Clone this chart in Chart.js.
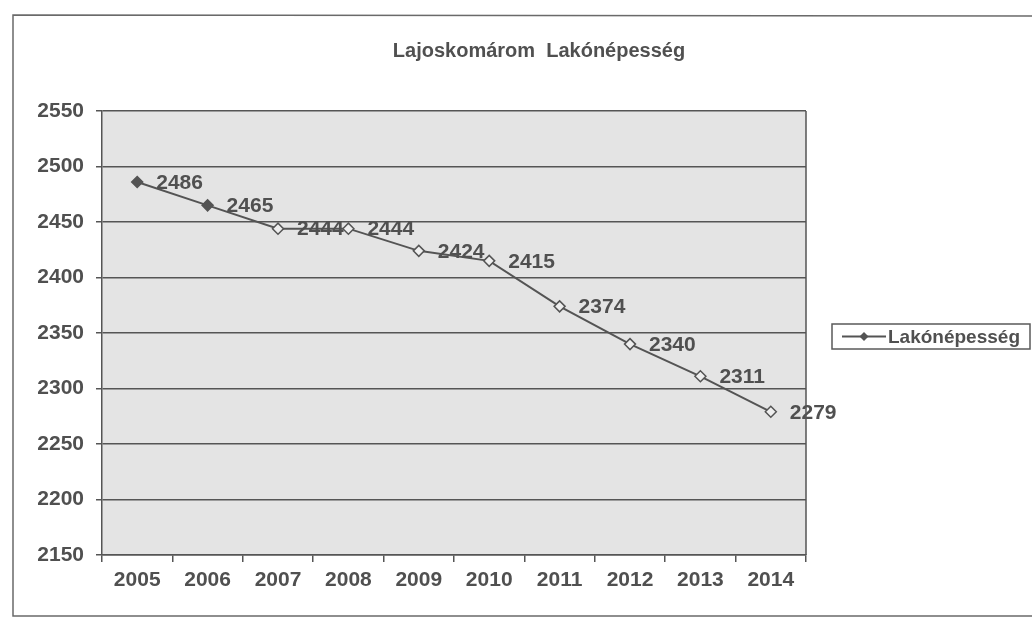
<!DOCTYPE html>
<html>
<head>
<meta charset="utf-8">
<style>
  html, body { margin: 0; padding: 0; background: #ffffff; }
  #wrap { width: 1032px; height: 620px; position: relative; }
</style>
<script src="https://cdn.jsdelivr.net/npm/chart.js@4.4.1/dist/chart.umd.min.js"></script>
</head>
<body>
<div id="wrap"><canvas id="c" width="1032" height="620"></canvas></div>
<script>
// ---- data ----
const chartTitle = 'Lajoskomárom  Lakónépesség';
const seriesName = 'Lakónépesség';
const years = ['2005', '2006', '2007', '2008', '2009', '2010', '2011', '2012', '2013', '2014'];
const population = [2486, 2465, 2444, 2444, 2424, 2415, 2374, 2340, 2311, 2279];
const yMin = 2150;
const yMax = 2550;
const yStep = 50;

// ---- style ----
const FONT = '"Liberation Sans", Arial, sans-serif';
const TEXT = '#505050';
const LINE = '#545454';
const GRID = '#555555';
const PLOT_BG = '#e4e4e4';

const plotBg = {
  id: 'plotBg',
  beforeDraw(chart) {
    const { ctx, chartArea: a } = chart;
    ctx.save();
    ctx.fillStyle = PLOT_BG;
    ctx.fillRect(a.left, a.top, a.right - a.left, a.bottom - a.top);
    // outer chart frame
    ctx.strokeStyle = '#6a6a6a';
    ctx.lineWidth = 1.5;
    ctx.beginPath();
    ctx.moveTo(1040, 16);
    ctx.lineTo(13, 15);
    ctx.lineTo(13, 616);
    ctx.lineTo(1040, 616);
    ctx.stroke();
    // title
    ctx.fillStyle = TEXT;
    ctx.font = 'bold 20px ' + FONT;
    ctx.textAlign = 'center';
    ctx.textBaseline = 'middle';
    ctx.fillText(chartTitle, 539, 51);
    ctx.restore();
  },
  afterDraw(chart) {
    const { ctx, chartArea: a } = chart;
    ctx.save();
    // right border of the plot area
    ctx.strokeStyle = GRID;
    ctx.lineWidth = 1.5;
    ctx.beginPath();
    ctx.moveTo(a.right, a.top);
    ctx.lineTo(a.right, a.bottom);
    ctx.stroke();
    // legend
    const lx = 832, ly = 324, lw = 198, lh = 25;
    ctx.strokeStyle = '#5a5a5a';
    ctx.lineWidth = 1.5;
    ctx.strokeRect(lx, ly, lw, lh);
    const cy = ly + lh / 2;
    ctx.strokeStyle = LINE;
    ctx.lineWidth = 2;
    ctx.beginPath();
    ctx.moveTo(842, cy);
    ctx.lineTo(886, cy);
    ctx.stroke();
    ctx.fillStyle = LINE;
    ctx.beginPath();
    ctx.moveTo(864, cy - 4.5);
    ctx.lineTo(868.5, cy);
    ctx.lineTo(864, cy + 4.5);
    ctx.lineTo(859.5, cy);
    ctx.closePath();
    ctx.fill();
    ctx.fillStyle = TEXT;
    ctx.font = 'bold 19px ' + FONT;
    ctx.textAlign = 'left';
    ctx.textBaseline = 'middle';
    ctx.fillText(seriesName, 888, cy + 1);
    ctx.restore();
  }
};

const dataLabels = {
  id: 'dataLabels',
  afterDatasetsDraw(chart) {
    const { ctx } = chart;
    const meta = chart.getDatasetMeta(0);
    const values = chart.data.datasets[0].data;
    ctx.save();
    ctx.fillStyle = TEXT;
    ctx.font = 'bold 21px ' + FONT;
    ctx.textAlign = 'left';
    ctx.textBaseline = 'middle';
    meta.data.forEach((pt, i) => {
      ctx.fillText(String(values[i]), pt.x + 19, pt.y + 1);
    });
    ctx.restore();
  }
};

new Chart(document.getElementById('c'), {
  type: 'line',
  data: {
    labels: years,
    datasets: [{
      label: seriesName,
      data: population,
      borderColor: LINE,
      borderWidth: 2,
      tension: 0,
      pointStyle: 'rectRot',
      pointRadius: 5.5,
      pointBorderWidth: 1.5,
      pointBorderColor: LINE,
      pointBackgroundColor: (c) => (c.dataIndex < 2 ? LINE : '#eeeeee')
    }]
  },
  options: {
    responsive: false,
    animation: false,
    events: [],
    layout: { padding: { top: 111, left: 0, right: 226, bottom: 0 } },
    plugins: {
      legend: { display: false },
      title: { display: false },
      tooltip: { enabled: false }
    },
    scales: {
      x: {
        type: 'category',
        offset: true,
        afterFit(scale) { scale.height = 65; },
        grid: {
          display: true,
          offset: true,
          drawOnChartArea: false,
          drawTicks: true,
          tickLength: 7,
          color: GRID,
          lineWidth: 1.5
        },
        border: { display: true, color: GRID, width: 1.5 },
        ticks: {
          color: TEXT,
          font: { family: FONT, size: 21, weight: 'bold' },
          padding: 6,
          maxRotation: 0,
          autoSkip: false
        }
      },
      y: {
        min: yMin,
        max: yMax,
        afterFit(scale) { scale.width = 102; },
        grid: {
          color: GRID,
          lineWidth: 1.5,
          drawTicks: true,
          tickLength: 6
        },
        border: { display: true, color: GRID, width: 1.5 },
        ticks: {
          stepSize: yStep,
          color: TEXT,
          font: { family: FONT, size: 21, weight: 'bold' },
          padding: 12,
          callback: (v) => String(v)
        }
      }
    }
  },
  plugins: [plotBg, dataLabels]
});
</script>
</body>
</html>
